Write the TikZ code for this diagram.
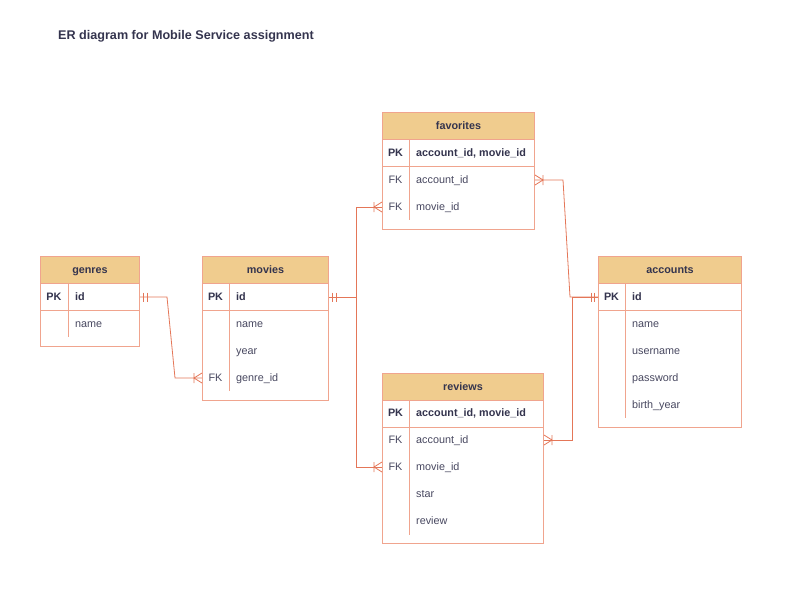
\documentclass[tikz,border=0pt]{standalone}
\usepackage{fontspec}
\setmainfont{Liberation Sans}
\usetikzlibrary{calc}

\definecolor{hdrfill}{RGB}{240,204,142}
\definecolor{tblline}{RGB}{240,164,142}
\definecolor{relline}{RGB}{228,118,88}
\definecolor{ink}{RGB}{52,52,78}
\definecolor{inklight}{RGB}{72,72,96}

\newcommand{\tabfont}{\fontsize{10.8}{13}\selectfont}

\tikzset{
  tbl/.style={draw=tblline,line width=1pt,fill=white,anchor=north west,inner sep=0pt},
  hdr/.style={draw=tblline,line width=1pt,fill=hdrfill,anchor=north west,inner sep=0pt,
    minimum height=27pt,text height=7.6pt,text depth=0pt,font=\tabfont\bfseries,text=ink},
  grid/.style={draw=tblline,line width=1pt},
  key/.style={font=\tabfont\bfseries,text=ink,inner sep=0pt,text height=7.6pt,text depth=0pt},
  fk/.style={font=\tabfont,text=inklight,inner sep=0pt,text height=7.6pt,text depth=0pt},
  pkfld/.style={font=\tabfont\bfseries,text=ink,anchor=west,inner sep=0pt,text height=7.6pt,text depth=0pt},
  fld/.style={font=\tabfont,text=inklight,anchor=west,inner sep=0pt,text height=7.6pt,text depth=0pt},
  rel/.style={draw=relline,line width=0.8pt},
  pics/mandone/.style={code={
    \draw[rel] (-3.5,-4.5) -- (-3.5,4.5) (-7,-4.5) -- (-7,4.5);}},
  pics/onemany/.style={code={
    \draw[rel] (0,-5) -- (-8,0) -- (0,5) (-8,-5) -- (-8,5);}},
}

\begin{document}
\begin{tikzpicture}[x=1pt,y=-1pt]
    \useasboundingbox (0,0) rectangle (806,606);
    \node[anchor=west,font=\fontsize{12.6}{15}\selectfont\bfseries,text=ink,inner sep=0pt,
      text height=9pt,text depth=0pt] (title) at (58,34.5) {ER diagram for Mobile Service assignment};
    %
    % genres
    \node[tbl,minimum width=99pt,minimum height=90pt] (genres) at (40,256) {};
    \node[hdr,minimum width=99pt] (genres-h) at (40,256) {genres};
    \draw[grid] (40,310) -- (139,310);
    \draw[grid] (68,283) -- (68,337);
    \node[key] (genres-pk) at (54,297) {PK};
    \node[pkfld] (genres-id) at (75,297) {id};
    \node[fld] (genres-name) at (75,324) {name};
    %
    % movies
    \node[tbl,minimum width=126pt,minimum height=144pt] (movies) at (202,256) {};
    \node[hdr,minimum width=126pt] (movies-h) at (202,256) {movies};
    \draw[grid] (202,310) -- (328,310);
    \draw[grid] (229,283) -- (229,391);
    \node[key] (movies-pk) at (215.5,297) {PK};
    \node[pkfld] (movies-id) at (236,297) {id};
    \node[fld] (movies-name) at (236,324) {name};
    \node[fld] (movies-year) at (236,351) {year};
    \node[fk] (movies-fk) at (215.5,378) {FK};
    \node[fld] (movies-genre) at (236,378) {genre\_id};
    %
    % favorites
    \node[tbl,minimum width=152pt,minimum height=117pt] (favorites) at (382,112) {};
    \node[hdr,minimum width=152pt] (favorites-h) at (382,112) {favorites};
    \draw[grid] (382,166) -- (534,166);
    \draw[grid] (409,139) -- (409,220);
    \node[key] (favorites-pk) at (395.5,153) {PK};
    \node[pkfld] (favorites-key) at (416,153) {account\_id, movie\_id};
    \node[fk] (favorites-fk1) at (395.5,180) {FK};
    \node[fld] (favorites-account) at (416,180) {account\_id};
    \node[fk] (favorites-fk2) at (395.5,207) {FK};
    \node[fld] (favorites-movie) at (416,207) {movie\_id};
    %
    % reviews
    \node[tbl,minimum width=161pt,minimum height=170pt] (reviews) at (382,373) {};
    \node[hdr,minimum width=161pt] (reviews-h) at (382,373) {reviews};
    \draw[grid] (382,427) -- (543,427);
    \draw[grid] (409,400) -- (409,535);
    \node[key] (reviews-pk) at (395.5,413) {PK};
    \node[pkfld] (reviews-key) at (416,413) {account\_id, movie\_id};
    \node[fk] (reviews-fk1) at (395.5,440) {FK};
    \node[fld] (reviews-account) at (416,440) {account\_id};
    \node[fk] (reviews-fk2) at (395.5,467) {FK};
    \node[fld] (reviews-movie) at (416,467) {movie\_id};
    \node[fld] (reviews-star) at (416,494) {star};
    \node[fld] (reviews-review) at (416,521) {review};
    %
    % accounts
    \node[tbl,minimum width=143pt,minimum height=171pt] (accounts) at (598,256) {};
    \node[hdr,minimum width=143pt] (accounts-h) at (598,256) {accounts};
    \draw[grid] (598,310) -- (741,310);
    \draw[grid] (625,283) -- (625,418);
    \node[key] (accounts-pk) at (611.5,297) {PK};
    \node[pkfld] (accounts-id) at (632,297) {id};
    \node[fld] (accounts-name) at (632,324) {name};
    \node[fld] (accounts-user) at (632,351) {username};
    \node[fld] (accounts-pass) at (632,378) {password};
    \node[fld] (accounts-birth) at (632,405) {birth\_year};
    %
    % relations
    \draw[rel] (genres.east |- genres-id) -- ++(27,0)
      -- ($(movies.west |- movies-genre)+(-27,0)$) -- (movies.west |- movies-genre);
    \draw[rel] (movies.east |- movies-id) -- ++(27,0) |- (favorites.west |- favorites-movie);
    \draw[rel] (movies.east |- movies-id) -- ++(27,0) |- (reviews.west |- reviews-movie);
    \draw[rel] (favorites.east |- favorites-account) -- ++(28,0)
      -- ($(accounts.west |- accounts-id)+(-28,0)$) -- (accounts.west |- accounts-id);
    \draw[rel] (reviews.east |- reviews-account) -- ++(28,0) |- (accounts.west |- accounts-id);
    %
    \pic[xscale=-1] at (genres.east |- genres-id) {mandone};
    \pic at (movies.west |- movies-genre) {onemany};
    \pic[xscale=-1] at (movies.east |- movies-id) {mandone};
    \pic at (favorites.west |- favorites-movie) {onemany};
    \pic at (reviews.west |- reviews-movie) {onemany};
    \pic[xscale=-1] at (favorites.east |- favorites-account) {onemany};
    \pic[xscale=-1] at (reviews.east |- reviews-account) {onemany};
    \pic at (accounts.west |- accounts-id) {mandone};
\end{tikzpicture}
\end{document}
